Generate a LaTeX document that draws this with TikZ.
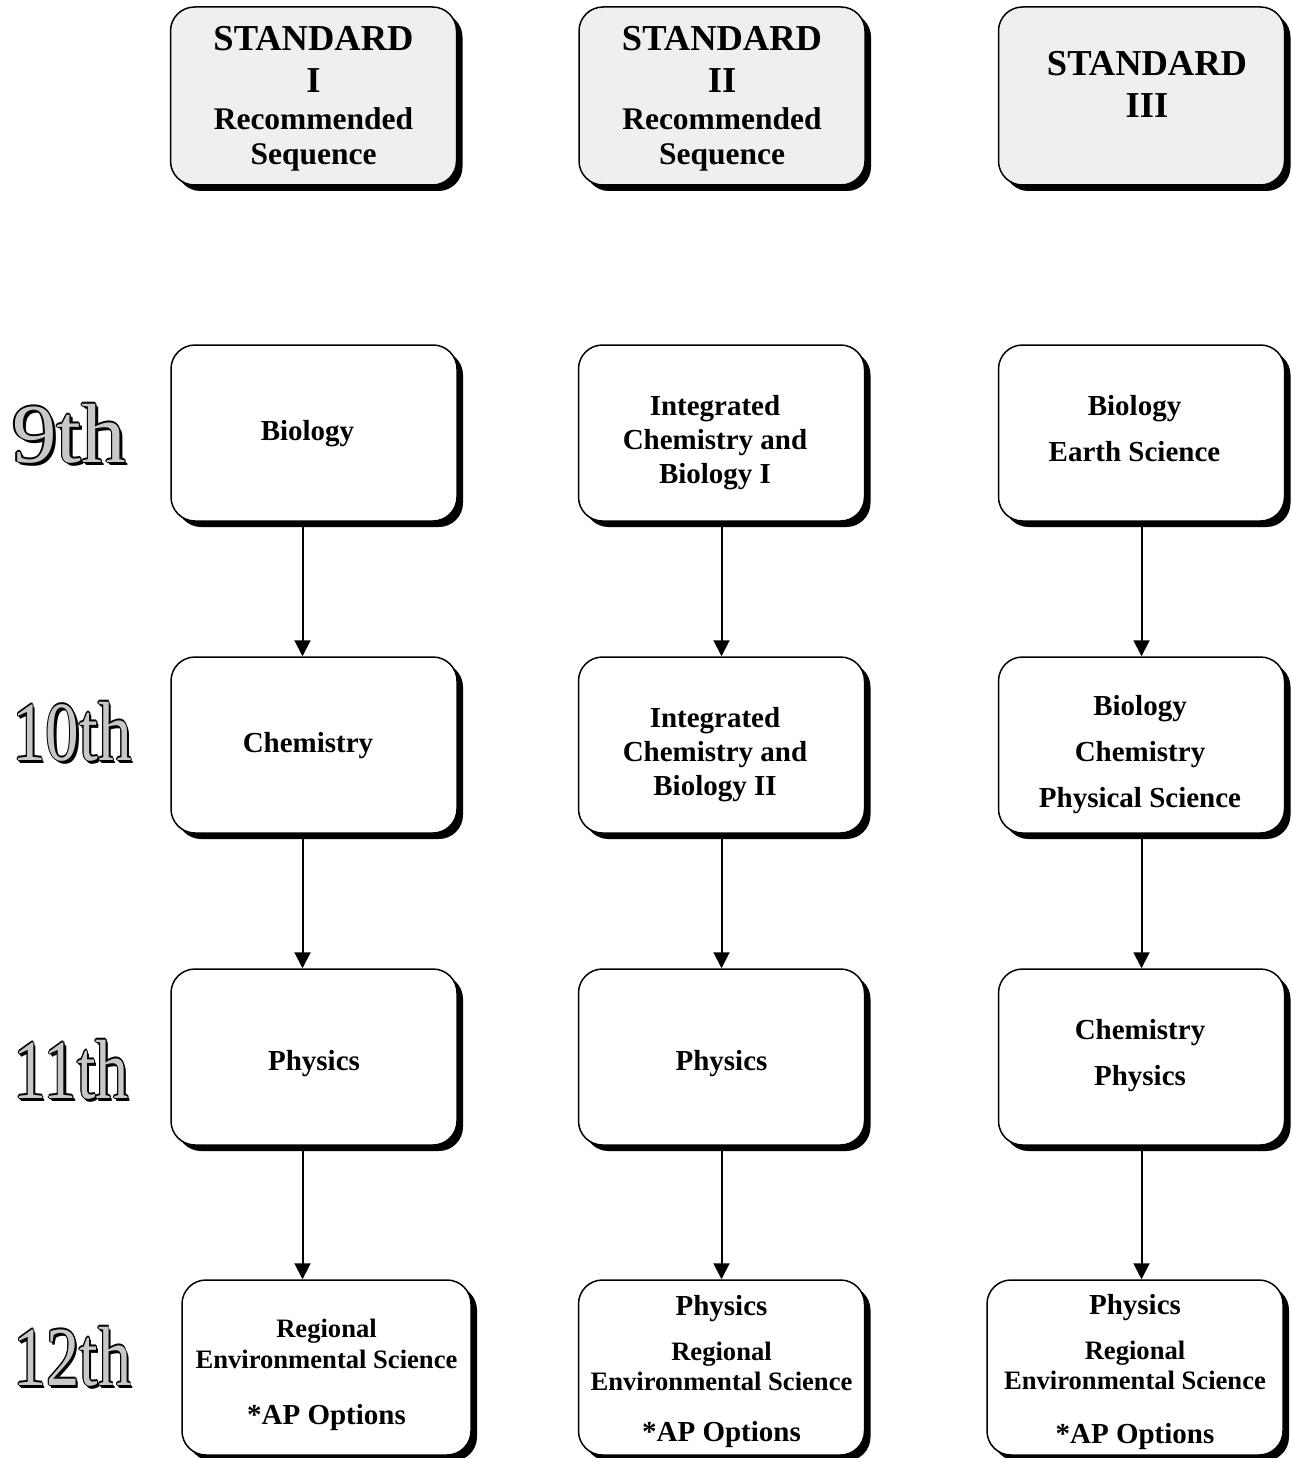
\documentclass[tikz,border=0pt]{standalone}
\usepackage{fontspec}
\setmainfont{Liberation Serif}
\usepackage{graphicx}
\usetikzlibrary{arrows.meta,shadows,calc}
\definecolor{hdrgray}{HTML}{EFEFEF}
\definecolor{gradegray}{HTML}{C8C8C8}
% text block inside a box: #1 lowered by, #2 space left, #3 space right, #4 lines
\newcommand{\tx}[4]{\raisebox{-#1}[\height][\depth]{\hspace*{#2}\begin{tabular}{@{}c@{}}#4\end{tabular}\hspace*{#3}}}
\newcommand{\rs}{\fontsize{31.5}{35}\selectfont}
\newcommand{\rg}{\fontsize{26.6}{34}\selectfont}
% outlined grade label pieces
\newcommand{\cpy}[3]{\makebox[0pt][l]{\hspace*{#1}\raisebox{#2}{\color{black}#3}}}
\newcommand{\gradeoutline}[1]{%
  \cpy{3pt}{-3pt}{#1}\cpy{2.2pt}{-2.2pt}{#1}%
  \cpy{1.2pt}{0pt}{#1}\cpy{-1.2pt}{0pt}{#1}\cpy{0pt}{1.2pt}{#1}\cpy{0pt}{-1.2pt}{#1}%
  \cpy{0.9pt}{0.9pt}{#1}\cpy{-0.9pt}{0.9pt}{#1}\cpy{0.9pt}{-0.9pt}{#1}\cpy{-0.9pt}{-0.9pt}{#1}%
  \textcolor{gradegray}{#1}}
\newcommand{\gradelbl}[2]{\scalebox{#1}[1]{\fontsize{84}{84}\selectfont\gradeoutline{#2}}}

\begin{document}
\begin{tikzpicture}[x=1pt,y=-1pt,
  card/.style={draw=black, line width=1.5pt, rounded corners=24pt, fill=white,
    minimum width=286pt, minimum height=176pt, inner sep=0pt,
    drop shadow={shadow xshift=6pt, shadow yshift=-6pt, fill=black, opacity=1},
    font=\fontsize{29}{34}\selectfont\bfseries},
  hdr/.style={card, fill=hdrgray, minimum height=178pt,
    font=\fontsize{36.5}{42}\selectfont\bfseries},
  arr/.style={line width=2pt, -{Triangle[length=16pt,width=16pt]}},
  grade/.style={anchor=base west, inner sep=0pt}]
\useasboundingbox (0,0) rectangle (1291,1458);

% headers
\node[hdr] (h1) at (313.5,96) {\tx{3pt}{0pt}{0pt}{STANDARD\\I\\[-5pt]\rs Recommended\\[-7pt]\rs Sequence}};
\node[hdr] (h2) at (722,96) {\tx{3pt}{0pt}{0pt}{STANDARD\\II\\[-5pt]\rs Recommended\\[-7pt]\rs Sequence}};
\node[hdr] (h3) at (1141.5,96) {\tx{2pt}{11pt}{0pt}{STANDARD\\III\rule[-32pt]{0pt}{1pt}}};

% 9th
\node[card] (b9a) at (314,433) {\tx{1pt}{0pt}{13pt}{Biology}};
\node[card] (b9b) at (721.5,433) {\tx{4pt}{0pt}{13pt}{\rule{0pt}{36pt}Integrated\\Chemistry and\\Biology I}};
\node[card] (b9c) at (1141.5,433) {\tx{4pt}{0pt}{14pt}{Biology\\[12pt]Earth Science\rule[-20pt]{0pt}{1pt}}};
% 10th
\node[card] (b10a) at (314,745) {\tx{1pt}{0pt}{12pt}{Chemistry}};
\node[card] (b10b) at (721.5,745) {\tx{4pt}{0pt}{13pt}{\rule{0pt}{36pt}Integrated\\Chemistry and\\Biology II}};
\node[card] (b10c) at (1141.5,745) {\tx{4pt}{0pt}{3pt}{\rule{0pt}{36pt}Biology\\[12pt]Chemistry\\[12pt]Physical Science}};
% 11th
\node[card] (b11a) at (314,1057) {\tx{7pt}{0pt}{0pt}{Physics}};
\node[card] (b11b) at (721.5,1057) {\tx{7pt}{0pt}{0pt}{Physics}};
\node[card] (b11c) at (1141.5,1057) {\tx{4pt}{0pt}{3pt}{Chemistry\\[12pt]Physics\rule[-20pt]{0pt}{1pt}}};
% 12th
\node[card, minimum width=289pt, minimum height=175pt] (b12a) at (326.5,1367.5)
  {\tx{7pt}{0pt}{0pt}{\rg Regional\\[-3pt]\rg Environmental Science\\[22pt]*AP Options}};
\node[card, minimum height=175pt] (b12b) at (721.5,1367.5)
  {\tx{4pt}{0pt}{0pt}{Physics\\[11pt]\rg Regional\\[-4pt]\rg Environmental Science\\[17pt]*AP Options}};
\node[card, minimum width=296pt, minimum height=175pt] (b12c) at (1135,1367.5)
  {\tx{5pt}{0pt}{0pt}{Physics\\[11pt]\rg Regional\\[-4pt]\rg Environmental Science\\[20pt]*AP Options}};

% grade labels
\node[grade] (g9) at (12,462) {\gradelbl{1.06}{9th}};
\node[grade] (g10) at (12,760) {\gradelbl{0.8}{10th}};
\node[grade] (g11) at (13,1098) {\gradelbl{0.79}{11th}};
\node[grade] (g12) at (13,1385) {\gradelbl{0.79}{12th}};

% connectors
\coordinate (c9a) at ([xshift=-11.5pt]b9a.south);
\coordinate (c10a) at ([xshift=-11.5pt]b10a.south);
\coordinate (c11a) at ([xshift=-11.5pt]b11a.south);
\draw[arr] (c9a) -- (c9a |- b10a.north);
\draw[arr] (c10a) -- (c10a |- b11a.north);
\draw[arr] (c11a) -- (c11a |- b12a.north);
\draw[arr] (b9b.south) -- (b10b.north);
\draw[arr] (b10b.south) -- (b11b.north);
\draw[arr] (b11b.south) -- (b12b.north);
\draw[arr] (b9c.south) -- (b10c.north);
\draw[arr] (b10c.south) -- (b11c.north);
\draw[arr] (b11c.south) -- (b11c.south |- b12c.north);
\end{tikzpicture}
\end{document}
